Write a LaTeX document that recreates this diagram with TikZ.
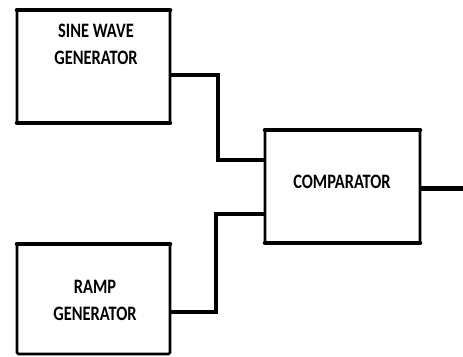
\documentclass[tikz,border=0pt]{standalone}
\usepackage{fontspec}
\setmainfont{Carlito}
\newcommand{\blocktext}[1]{\scalebox{1}[1.25]{\begin{tabular}{@{}c@{}}#1\end{tabular}}}
\begin{document}
\begin{tikzpicture}[x=1pt,y=-1pt,
  blk/.style={draw,line width=2.8pt,rounded corners=1.5pt,inner sep=0pt},
  edge/.style={line width=4.5pt,line cap=round},
  wire/.style={line width=3.6pt,line join=miter},
  lbl/.style={font=\fontsize{16.4}{14}\bfseries\selectfont,inner sep=0pt,align=center}]
\useasboundingbox[fill=white] (0,0) rectangle (463,356);
% boxes
\draw[blk] (17,10) rectangle (170,123);
\draw[edge] (17,10) -- (170,10);
\draw[edge] (17,123) -- (170,123);
\draw[blk] (265,130) rectangle (420,243);
\draw[edge] (265,130) -- (420,130);
\draw[edge] (265,243) -- (420,243);
\draw[blk] (17,244) rectangle (170,354);
\draw[edge] (17,244) -- (170,244);
% named anchors
\coordinate (sineout) at (170,75);
\coordinate (compinA) at (265,160);
\coordinate (compinB) at (265,214);
\coordinate (rampout) at (170,312);
\coordinate (compout) at (420,188);
\coordinate (outend) at (464,188);
% labels
\node[lbl] (sine) at (96,47) {\blocktext{SINE WAVE\\[7pt]GENERATOR}};
\node[lbl] (comp) at (342,184) {\blocktext{COMPARATOR}};
\node[lbl] (ramp) at (95,303) {\blocktext{RAMP\\[7pt]GENERATOR}};
% connectors
\draw[wire] (sineout) -- (218,75) -- (218,160) -- (compinA);
\draw[wire] (rampout) -- (216,312) -- (216,214) -- (compinB);
\draw[line width=5pt] (compout) -- (outend);
\end{tikzpicture}
\end{document}
